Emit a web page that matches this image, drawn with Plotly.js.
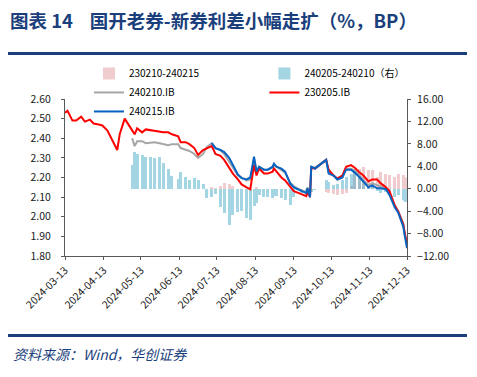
<!DOCTYPE html>
<html>
<head>
<meta charset="utf-8">
<script src="https://cdn.plot.ly/plotly-3.0.1.min.js"></script>
<style>
  html, body { margin: 0; padding: 0; background: #fff; }
  #chart { width: 477px; height: 377px; }
</style>
</head>
<body>
<div id="chart"></div>
<script>
// ---- data ----
const dates = [
  '2024-03-13','2024-03-15','2024-03-19','2024-03-22','2024-03-26','2024-03-29',
  '2024-04-02','2024-04-05','2024-04-09','2024-04-12','2024-04-16','2024-04-19',
  '2024-04-23','2024-04-24','2024-04-26','2024-04-30',
  '2024-05-06','2024-05-08','2024-05-10','2024-05-14','2024-05-17','2024-05-21',
  '2024-05-24','2024-05-28','2024-05-31','2024-06-04','2024-06-07','2024-06-12',
  '2024-06-14','2024-06-18','2024-06-21','2024-06-25','2024-06-28','2024-07-02',
  '2024-07-05','2024-07-09','2024-07-12','2024-07-16','2024-07-19','2024-07-23',
  '2024-07-26','2024-07-30','2024-08-02','2024-08-06','2024-08-09','2024-08-12',
  '2024-08-14','2024-08-16','2024-08-20','2024-08-23','2024-08-27','2024-08-28',
  '2024-08-30','2024-09-03','2024-09-06','2024-09-10','2024-09-13','2024-09-19',
  '2024-09-23','2024-09-24','2024-09-26','2024-09-27','2024-09-30','2024-10-09',
  '2024-10-11','2024-10-15','2024-10-18','2024-10-22','2024-10-25','2024-10-29',
  '2024-11-01','2024-11-05','2024-11-08','2024-11-12','2024-11-15','2024-11-19',
  '2024-11-22','2024-11-26','2024-11-29','2024-12-03','2024-12-06','2024-12-10',
  '2024-12-11','2024-12-12','2024-12-13'
];

// 230205.IB (%)
const red230205 = [
  2.53,2.54,2.49,2.49,2.51,2.485,
  2.495,2.475,2.47,2.465,2.44,2.40,
  2.345,2.34,2.42,2.50,
  2.44,2.42,2.45,2.43,2.445,2.44,
  2.44,2.435,2.43,2.43,2.42,2.41,
  2.38,2.38,2.37,2.35,2.315,2.34,
  2.35,2.36,2.32,2.31,2.29,2.25,
  2.22,2.19,2.165,2.15,2.14,2.263,
  2.21,2.246,2.22,2.22,2.23,2.246,
  2.23,2.20,2.185,2.15,2.13,2.115,
  2.105,2.13,2.10,2.25,2.245,2.29,
  2.24,2.21,2.195,2.21,2.255,2.263,
  2.25,2.225,2.21,2.18,2.19,2.19,
  2.17,2.15,2.13,2.06,2.025,1.96,
  1.92,1.89,1.87
];

// 240210.IB (%)
const grey240210 = [
  null,null,null,null,null,null,
  null,null,null,null,null,null,
  null,null,null,null,
  2.40,2.36,2.385,2.385,2.375,2.38,
  2.38,2.375,2.37,2.365,2.37,2.37,
  2.35,2.34,2.335,2.32,2.30,2.32,
  2.355,2.375,2.35,2.34,2.32,2.28,
  2.25,2.21,2.20,2.185,2.19,2.29,
  2.235,2.25,2.24,2.24,2.25,2.265,
  2.255,2.24,2.225,2.175,2.155,2.135,
  2.125,2.15,2.105,2.255,2.25,2.29,
  2.225,2.21,2.19,2.20,2.245,2.245,
  2.235,2.21,2.19,2.16,2.17,2.16,
  2.155,2.145,2.12,2.06,2.03,1.965,
  1.92,1.89,1.86
];

// 240215.IB (%)
const blue240215 = [
  null,null,null,null,null,null,
  null,null,null,null,null,null,
  null,null,null,null,
  null,null,null,null,null,null,
  null,null,null,null,null,null,
  null,null,null,null,null,null,
  null,2.375,2.35,2.34,2.33,2.30,
  2.26,2.215,2.197,2.19,2.20,2.306,
  2.23,2.255,2.24,2.24,2.255,2.27,
  2.255,2.245,2.23,2.17,2.15,2.13,
  2.12,2.145,2.10,2.255,2.246,2.29,
  2.22,2.21,2.19,2.20,2.24,2.24,
  2.225,2.20,2.18,2.15,2.16,2.145,
  2.145,2.14,2.11,2.05,2.02,1.95,
  1.91,1.88,1.84
];

// 240205-240210 spread (BP, right axis)
const spread240205_240210 = [
  null,null,null,null,null,null,
  null,null,null,null,null,null,
  null,null,null,null,
  4.2,6.6,6.2,6.0,5.7,5.7,
  5.4,5.7,4.6,3.6,2.2,1.8,
  3.0,2.1,1.5,1.9,1.6,0.9,
  -1.6,-1.4,-1.0,-3.2,-4.3,-6.5,
  -4.7,-4.2,-4.0,-5.3,-5.6,-3.0,
  -2.6,-1.2,-1.4,-1.4,-1.7,-1.3,
  -1.3,-1.6,-2.0,-2.9,-1.4,-0.8,
  -0.5,-0.4,-0.3,-0.6,-0.3,1.5,
  1.2,0.6,0.8,1.5,2.1,2.7,
  3.0,1.9,1.3,0.7,0.5,-0.4,
  -0.8,-0.6,-1.0,-1.4,-1.2,-2.0,
  -2.2,-2.3,-1.5
];

// 230210-240215 spread (BP, right axis)
const spread230210_240215 = [
  null,null,null,null,null,null,
  null,null,null,null,null,null,
  null,null,null,null,
  null,null,null,null,null,null,
  null,null,null,null,null,null,
  null,null,null,null,null,null,
  null,0.3,0.2,0.5,1.0,0.9,
  0.4,null,null,null,null,null,
  0.3,null,null,null,null,null,
  null,null,null,null,null,null,
  null,null,null,null,null,-0.5,
  -0.8,-1.0,-1.1,-1.0,-0.8,0.5,
  3.6,3.6,3.9,3.3,3.3,2.1,
  3.0,2.7,2.4,2.1,2.7,2.4,
  2.1,2.0,1.5
];

const names = {
  pink: '230210-240215',
  bar: '240205-240210（右）',
  grey: '240210.IB',
  red: '230205.IB',
  blue: '240215.IB'
};

const titleText = '图表 14\u00a0\u00a0\u00a0\u00a0国开老券-新券利差小幅走扩（%，BP）';
const sourceText = '资料来源：Wind，华创证券';

// ---- chart ----
const FONT = '"Noto Sans CJK SC", "Noto Sans", sans-serif';
const DAY = 86400000;
const navy = '#1b3f7c';

const traces = [
  {
    type: 'bar', name: names.pink, x: dates, y: spread230210_240215,
    width: 2.4 * DAY, yaxis: 'y', xaxis: 'x',
    marker: { color: '#e6a3a7', line: { width: 0 } }, opacity: 0.55,
    legend: 'legend'
  },
  {
    type: 'bar', name: names.bar, x: dates, y: spread240205_240210,
    width: 2.4 * DAY, yaxis: 'y', xaxis: 'x',
    marker: { color: '#4bacc6', line: { width: 0 } }, opacity: 0.5,
    legend: 'legend2'
  },
  {
    type: 'scatter', mode: 'lines', name: names.grey, x: dates, y: grey240210,
    yaxis: 'y2', xaxis: 'x', line: { color: '#a6a6a6', width: 2 },
    legend: 'legend'
  },
  {
    type: 'scatter', mode: 'lines', name: names.red, x: dates, y: red230205,
    yaxis: 'y2', xaxis: 'x', line: { color: '#ff0000', width: 2 },
    legend: 'legend2'
  },
  {
    type: 'scatter', mode: 'lines', name: names.blue, x: dates, y: blue240215,
    yaxis: 'y2', xaxis: 'x', line: { color: '#0563c1', width: 2 },
    legend: 'legend'
  }
];

const axisCommon = {
  showgrid: false, zeroline: false, showline: true,
  linecolor: '#595959', linewidth: 1,
  ticks: 'outside', ticklen: 3, tickcolor: '#595959', tickwidth: 1,
  tickfont: { family: FONT, size: 10.5, color: '#1a1a1a' }
};

const layout = {
  width: 477, height: 377,
  margin: { l: 65, r: 70, t: 99, b: 121, pad: 0 },
  paper_bgcolor: '#ffffff', plot_bgcolor: '#ffffff',
  barmode: 'overlay', bargap: 0,
  showlegend: true,
  font: { family: FONT, size: 10, color: '#000' },
  title: {
    text: titleText,
    x: 10 / 477, xref: 'container', xanchor: 'left',
    y: 1 - 22 / 377, yref: 'container', yanchor: 'middle',
    font: { family: FONT, size: 18.5, color: navy, weight: 'bold' }
  },
  xaxis: Object.assign({}, axisCommon, {
    type: 'date',
    range: ['2024-03-13', '2024-12-13'],
    tick0: '2024-03-13', dtick: 'M1',
    tickformat: '%Y-%m-%d', tickangle: -45,
    anchor: 'y'
  }),
  yaxis: Object.assign({}, axisCommon, {
    side: 'right', range: [-12, 16], dtick: 4, tick0: 0,
    tickformat: '.2f', anchor: 'x', ticklabelstandoff: 4
  }),
  yaxis2: Object.assign({}, axisCommon, {
    side: 'left', overlaying: 'y', range: [1.8, 2.6], dtick: 0.1, tick0: 1.8,
    tickformat: '.2f', anchor: 'x', ticklabelstandoff: 8
  }),
  legend: {
    x: 0.07, y: 1.255, xanchor: 'left', yanchor: 'top',
    bgcolor: 'rgba(0,0,0,0)', borderwidth: 0,
    font: { family: FONT, size: 10, color: '#000' },
    itemwidth: 30, tracegroupgap: 0, traceorder: 'normal'
  },
  legend2: {
    x: 0.583, y: 1.255, xanchor: 'left', yanchor: 'top',
    bgcolor: 'rgba(0,0,0,0)', borderwidth: 0,
    font: { family: FONT, size: 10, color: '#000' },
    itemwidth: 30, tracegroupgap: 0, traceorder: 'normal'
  },
  shapes: [
    { type: 'line', xref: 'paper', yref: 'paper',
      x0: (8 - 65) / 342, x1: (467 - 65) / 342,
      y0: (256 - 53.5) / 157, y1: (256 - 53.5) / 157,
      line: { color: navy, width: 3 } },
    { type: 'line', xref: 'paper', yref: 'paper',
      x0: (8 - 65) / 342, x1: (467 - 65) / 342,
      y0: (256 - 335.5) / 157, y1: (256 - 335.5) / 157,
      line: { color: navy, width: 3 } }
  ],
  annotations: [
    { text: sourceText, showarrow: false,
      xref: 'paper', yref: 'paper',
      x: (11 - 65) / 342, y: (256 - 354) / 157,
      xanchor: 'left', yanchor: 'middle',
      font: { family: FONT, size: 14, color: navy, style: 'italic' } }
  ]
};

Plotly.newPlot('chart', traces, layout, { displayModeBar: false, staticPlot: true });
</script>
</body>
</html>
